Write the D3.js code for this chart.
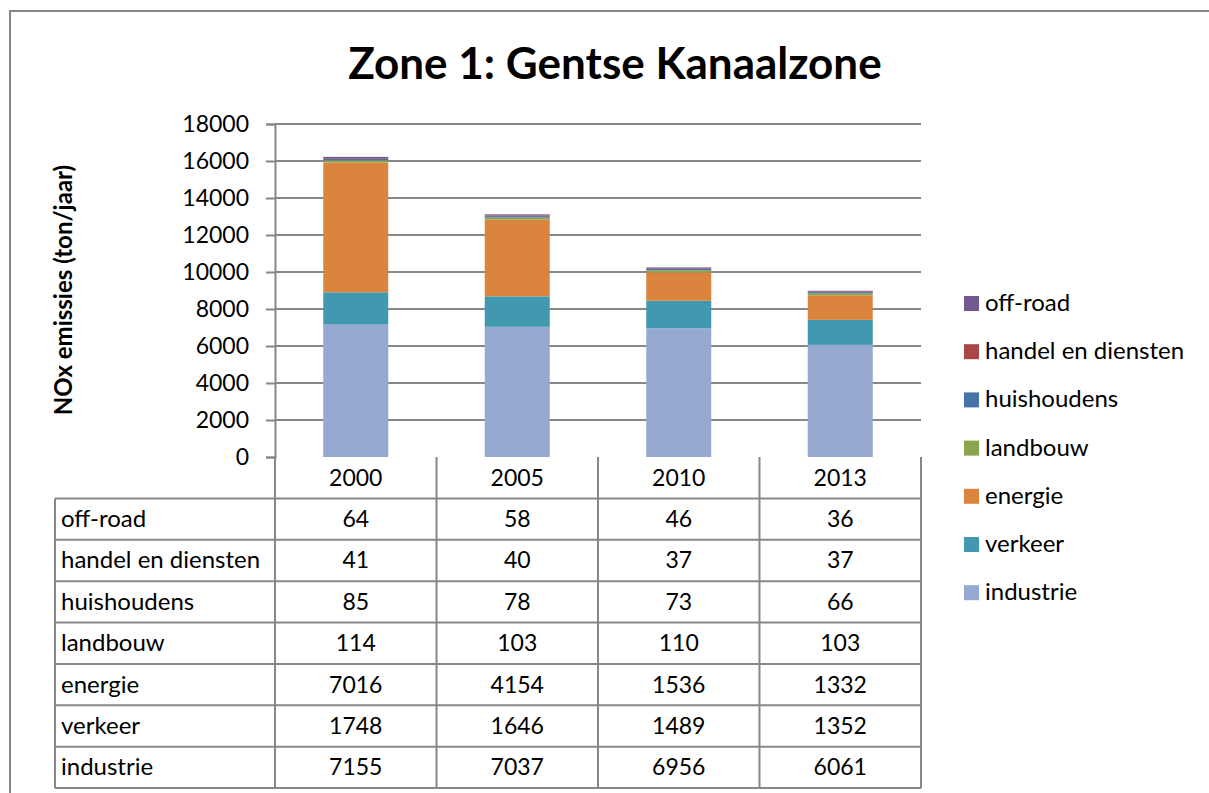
<!DOCTYPE html>
<html>
<head>
<meta charset="utf-8">
<script src="https://cdn.jsdelivr.net/npm/d3@7"></script>
<style>
    body { margin: 0; background: #fff; }
    text { font-family: Lato, "Open Sans", sans-serif; fill: #000; }
</style>
</head>
<body>
<svg id="chart" width="1209" height="793"></svg>
<script>
var years = ['2000', '2005', '2010', '2013'];

// Stack order, bottom to top.
var sectors = ['industrie', 'verkeer', 'energie', 'landbouw', 'huishoudens', 'handel en diensten', 'off-road'];

var industrie = [7155, 7037, 6956, 6061];
var verkeer = [1748, 1646, 1489, 1352];
var energie = [7016, 4154, 1536, 1332];
var landbouw = [114, 103, 110, 103];
var huishoudens = [85, 78, 73, 66];
var handel = [41, 40, 37, 37];
var offroad = [64, 58, 46, 36];

var yTicks = [0, 2000, 4000, 6000, 8000, 10000, 12000, 14000, 16000, 18000];

var colors = {
    'industrie': '#95A9D1',
    'verkeer': '#4198AF',
    'energie': '#DB843D',
    'landbouw': '#89A54E',
    'huishoudens': '#4572A7',
    'handel en diensten': '#AA4643',
    'off-road': '#71588F'
};

var seriesValues = {
    'industrie': industrie,
    'verkeer': verkeer,
    'energie': energie,
    'landbouw': landbouw,
    'huishoudens': huishoudens,
    'handel en diensten': handel,
    'off-road': offroad
};

// Build rows for d3.stack.
var rows = years.map(function (year, i) {
    var row = { year: year };
    sectors.forEach(function (s) {
        row[s] = seriesValues[s][i];
    });
    return row;
});

var svg = d3.select('#chart');
var gridColor = '#878787';
var numSize = '23px';
var labelSize = '24px';

// Outer chart frame.
svg.append('rect')
    .attr('x', 10).attr('y', 11)
    .attr('width', 1210).attr('height', 800)
    .attr('fill', 'none')
    .attr('stroke', gridColor)
    .attr('stroke-width', 2);

var plot = { left: 275, right: 921, top: 124, bottom: 457 };

var x = d3.scaleBand()
    .domain(years)
    .range([plot.left, plot.right])
    .paddingInner(0)
    .paddingOuter(0);

var y = d3.scaleLinear()
    .domain([0, 18000])
    .range([plot.bottom, plot.top]);

// Title.
svg.append('text')
    .attr('x', 615).attr('y', 79)
    .attr('text-anchor', 'middle')
    .style('font-size', '44px')
    .style('font-weight', 'bold')
    .text('Zone 1: Gentse Kanaalzone');

// Y axis label.
svg.append('text')
    .attr('transform', 'translate(72,290) rotate(-90)')
    .attr('text-anchor', 'middle')
    .style('font-size', '24px')
    .style('font-weight', 'bold')
    .text('NOx emissies (ton/jaar)');

// Gridlines.
svg.append('g')
    .selectAll('line')
    .data(yTicks.slice(1))
    .enter()
    .append('line')
    .attr('x1', plot.left).attr('x2', plot.right)
    .attr('y1', function (d) { return y(d); })
    .attr('y2', function (d) { return y(d); })
    .attr('stroke', gridColor)
    .attr('stroke-width', 2);

// Y axis.
var yAxis = svg.append('g')
    .attr('transform', 'translate(' + plot.left + ',0)')
    .call(d3.axisLeft(y).tickValues(yTicks).tickSize(9).tickPadding(17).tickFormat(d3.format('d')));

yAxis.select('.domain').attr('stroke', gridColor).attr('stroke-width', 2);
yAxis.selectAll('.tick line').attr('stroke', gridColor).attr('stroke-width', 2);
yAxis.selectAll('.tick text')
    .style('font-family', 'Lato, "Open Sans", sans-serif')
    .style('font-size', numSize)
    .attr('fill', '#000');

// Stacked bars.
var stacked = d3.stack().keys(sectors)(rows);
var barWidth = 65;

svg.append('g')
    .selectAll('g')
    .data(stacked)
    .enter()
    .append('g')
    .attr('fill', function (d) { return colors[d.key]; })
    .selectAll('rect')
    .data(function (d) { return d; })
    .enter()
    .append('rect')
    .attr('x', function (d) { return x(d.data.year) + (x.bandwidth() - barWidth) / 2; })
    .attr('width', barWidth)
    .attr('y', function (d) { return y(d[1]); })
    .attr('height', function (d) { return y(d[0]) - y(d[1]); });

// Data table below the chart.
var tableRows = sectors.slice().reverse();
var tableLeft = 55;
var rowY = d3.scaleBand()
    .domain(['header'].concat(tableRows))
    .range([plot.bottom, 788]);

var table = svg.append('g');

// Horizontal lines.
table.selectAll('line.h')
    .data(tableRows.concat(['end']))
    .enter()
    .append('line')
    .attr('class', 'h')
    .attr('x1', tableLeft).attr('x2', plot.right)
    .attr('y1', function (d) { return d === 'end' ? 788 : rowY(d); })
    .attr('y2', function (d) { return d === 'end' ? 788 : rowY(d); })
    .attr('stroke', gridColor).attr('stroke-width', 2);

// Vertical lines at band edges.
var vEdges = years.map(function (yr) { return x(yr); }).concat([plot.right]);
table.selectAll('line.v')
    .data(vEdges)
    .enter()
    .append('line')
    .attr('class', 'v')
    .attr('x1', function (d) { return d; })
    .attr('x2', function (d) { return d; })
    .attr('y1', plot.bottom).attr('y2', 788)
    .attr('stroke', gridColor).attr('stroke-width', 2);

table.append('line')
    .attr('x1', tableLeft).attr('x2', tableLeft)
    .attr('y1', rowY(tableRows[0])).attr('y2', 788)
    .attr('stroke', gridColor).attr('stroke-width', 2);

// Year header labels.
table.selectAll('text.year')
    .data(years)
    .enter()
    .append('text')
    .attr('class', 'year')
    .attr('x', function (d) { return x(d) + x.bandwidth() / 2; })
    .attr('y', rowY('header') + rowY.bandwidth() / 2 + 8)
    .attr('text-anchor', 'middle')
    .style('font-size', numSize)
    .text(function (d) { return d; });

// Row labels and values.
tableRows.forEach(function (s) {
    var cy = rowY(s) + rowY.bandwidth() / 2 + 8;

    table.append('text')
        .attr('x', 61).attr('y', cy)
        .style('font-size', labelSize)
        .text(s);

    table.selectAll(null)
        .data(seriesValues[s])
        .enter()
        .append('text')
        .attr('x', function (d, i) { return x(years[i]) + x.bandwidth() / 2; })
        .attr('y', cy)
        .attr('text-anchor', 'middle')
        .style('font-size', numSize)
        .text(function (d) { return d; });
});

// Legend, top entry is the top of the stack.
var legend = svg.append('g')
    .selectAll('g')
    .data(tableRows)
    .enter()
    .append('g')
    .attr('transform', function (d, i) { return 'translate(964,' + (303 + i * 48.2) + ')'; });

legend.append('rect')
    .attr('x', 0).attr('y', -7)
    .attr('width', 15).attr('height', 15)
    .attr('fill', function (d) { return colors[d]; });

legend.append('text')
    .attr('x', 21).attr('y', 8)
    .style('font-size', labelSize)
    .text(function (d) { return d; });
</script>
</body>
</html>
